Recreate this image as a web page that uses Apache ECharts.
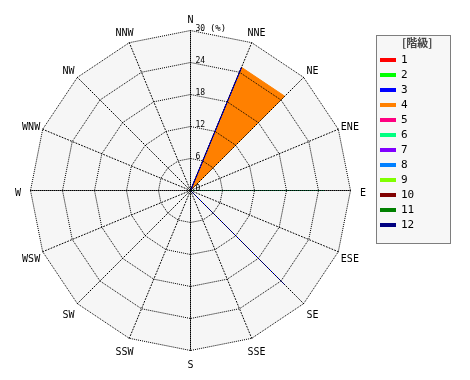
<!DOCTYPE html>
<html>
<head>
<meta charset="utf-8">
<script src="https://cdn.jsdelivr.net/npm/echarts@6/dist/echarts.min.js"></script>
<style>html,body{margin:0;padding:0;background:#fff}#c{width:470px;height:380px}</style>
</head>
<body>
<div id="c"></div>
<script>
const directions = ['N','NNE','NE','ENE','E','ESE','SE','SSE','S','SSW','SW','WSW','W','WNW','NW','NNW'];
const classNames = ['1','2','3','4','5','6','7','8','9','10','11','12'];
const classColors = ['#ff0000','#00ff00','#0000ff','#ff8000','#ff0080','#00ff80','#8000ff','#0080ff','#80ff00','#800000','#008000','#000080'];
// values (%) per direction, in compass order N, NNE, NE, ...
const class1  = [0,0,0,0,0,0,0,0,0,0,0,0,0,0,0,0];
const class2  = [0,0,0,0,0,0,0,0,0,0,0,0,0,0,0,0];
const class3  = [0,25,0,0,0,0,25,0,0,0,0,0,0,0,0,0];
const class4  = [0,25,25,0,0,0,0,0,0,0,0,0,0,0,0,0];
const class5  = [0,0,0,0,0,0,0,0,0,0,0,0,0,0,0,0];
const class6  = [0,0,0,0,25,0,0,0,0,0,0,0,0,0,0,0];
const class7  = [0,0,0,0,0,0,0,0,0,0,0,0,0,0,0,0];
const class8  = [0,0,0,0,0,0,0,0,0,0,0,0,0,0,0,0];
const class9  = [0,0,0,0,0,0,0,0,0,0,0,0,0,0,0,0];
const class10 = [0,0,0,0,0,0,0,0,0,0,0,0,0,0,0,0];
const class11 = [0,0,0,0,0,0,0,0,0,0,0,0,0,0,0,0];
const class12 = [0,0,0,0,0,0,0,0,0,0,0,0,0,0,0,0];
const classValues = [class1,class2,class3,class4,class5,class6,class7,class8,class9,class10,class11,class12];
const radialTicks = [0,6,12,18,24,30];
const radialMax = 30;
const unitLabel = '(%)';

// ECharts radar goes counter-clockwise; reorder so compass runs clockwise
const order = directions.map((d,i)=> (16 - i) % 16);
const reorder = arr => order.map(i => arr[i]);

const mono = 'DejaVu Sans Mono';
const cx = 190.5, cy = 190.5, R = 160;

const indicatorBase = order.map((i,k) => ({name: directions[i], max: radialMax, min: 0}));
const indicatorTop = order.map((i,k) => ({
  name: directions[i], max: radialMax, min: 0,
  nameMoveOverlap: false,
  axisLabel: {show: k === 0},
  axisLine: {lineStyle: (i % 4 === 0) ? {type: [1,1], dashOffset: 0.5} : {type: [1,2]}}
}));

const series = classNames.map((n, idx) => ({
  type: 'radar',
  name: n,
  radarIndex: 0,
  z: 2 + (classNames.length - idx) * 0.01,
  symbol: 'none',
  silent: true,
  lineStyle: {color: classColors[idx], width: 1},
  itemStyle: {color: classColors[idx]},
  areaStyle: {color: classColors[idx], opacity: 1},
  data: [{value: reorder(classValues[idx]), name: n}]
})).reverse();

const chart = echarts.init(document.getElementById('c'), null, {renderer:'canvas'});
chart.setOption({
  animation: false,
  backgroundColor: '#fff',
  title: {
    text: '[階級]', left: 397, top: 32,
    textStyle: {fontSize: 11, fontWeight: 'bold', color: '#444', fontFamily: 'Noto Sans CJK JP'}
  },
  graphic: [{
    type: 'rect', left: 376, top: 35, z: -1, silent: true,
    shape: {width: 74, height: 208},
    style: {fill: '#f7f7f7', stroke: '#000', lineWidth: 1, lineDash: [1,1]}
  }],
  legend: {
    orient: 'vertical', left: 376, top: 35,
    padding: [19, 36, 12, 4],
    itemWidth: 16, itemHeight: 4, itemGap: 3,
    icon: 'rect',
    data: classNames,
    textStyle: {fontSize: 11, fontFamily: mono, color: '#000', lineHeight: 12},
    selectedMode: false
  },
  radar: [
    {
      center: [cx, cy], radius: R, shape: 'polygon', startAngle: 90, splitNumber: 5,
      indicator: indicatorBase, z: 0,
      axisName: {show: false},
      splitLine: {show: false}, axisLine: {show: false},
      axisLabel: {show: false}, axisTick: {show: false},
      splitArea: {show: true, areaStyle: {color: ['#f6f6f6']}}
    },
    {
      center: [cx, cy], radius: R, shape: 'polygon', startAngle: 90, splitNumber: 5,
      indicator: indicatorTop, z: 5,
      nameGap: 12.5,
      nameMoveOverlap: false,
      axisName: {
        color: '#000', fontSize: 10, fontFamily: mono, align: 'center', verticalAlign: 'middle',
        formatter: name => '{d|' + name + '}',
        rich: {d: {color: '#000', fontSize: 10, fontFamily: mono, padding: [5,0,0,0]}}
      },
      splitLine: {show: true, lineStyle: {color: '#000', width: 1, type: [1,1]}},
      axisLine: {show: true, lineStyle: {color: '#000', width: 1}},
      axisTick: {show: false},
      splitArea: {show: false},
      axisLabel: {
        show: true, color: '#000', fontSize: 8, fontFamily: mono, margin: -5,
        align: 'left', verticalAlign: 'middle', lineHeight: 9, padding: [0,0,4,0],
        formatter: v => v === radialMax ? '{a|' + v + '} {b|' + unitLabel + '}' : String(v),
        rich: {a: {fontSize: 8, fontFamily: mono, lineHeight: 9}, b: {fontSize: 9, fontFamily: mono, lineHeight: 9}}
      }
    }
  ],
  series: series
});
</script>
</body>
</html>
